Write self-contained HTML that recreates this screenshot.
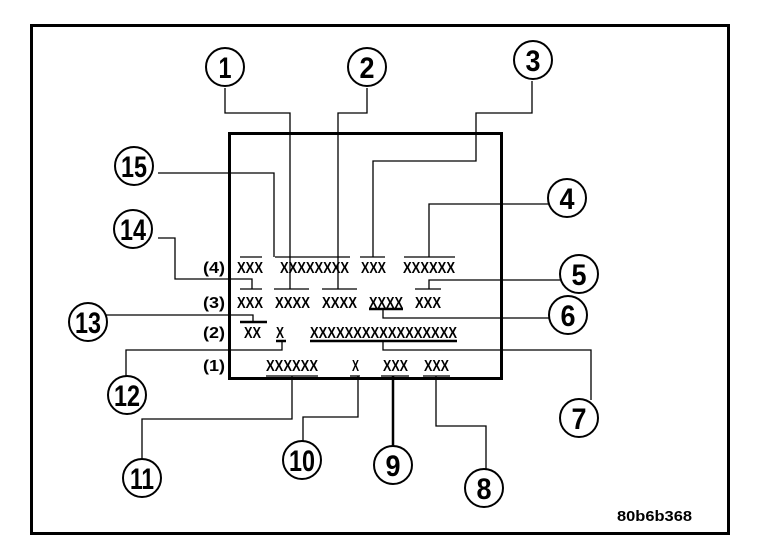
<!DOCTYPE html>
<html><head><meta charset="utf-8"><style>
html,body{margin:0;padding:0;background:#fff;}
svg{display:block;}
text{font-family:"Liberation Sans Narrow","Liberation Sans",sans-serif;font-weight:bold;fill:#000;}
</style></head><body>
<svg width="768" height="560" viewBox="0 0 768 560" xmlns="http://www.w3.org/2000/svg">
<rect x="31.5" y="25.5" width="697" height="508" fill="none" stroke="#000" stroke-width="3"/>
<rect x="229.5" y="133.5" width="272" height="245" fill="none" stroke="#000" stroke-width="3"/>
<g fill="none" stroke="#000" stroke-width="1.3">
<polyline points="225,88 225,113 290,113 290,289"/>
<polyline points="367,88 367,113 338,113 338,289"/>
<polyline points="532,81 532,113 476,113 476,161 373,161 373,257"/>
<polyline points="549,204 429,204 429,257"/>
<polyline points="560,280 429,280 429,289"/>
<polyline points="550,318 383,318 383,309"/>
<polyline points="383,341 383,350 591,350 591,400"/>
<polyline points="158,173 274,173 274,257"/>
<polyline points="158,238 175,238 175,279 252,279 252,289"/>
<polyline points="106,315 253,315 253,322"/>
<polyline points="126,377 126,350 282,350 282,341"/>
<polyline points="142,459 142,419 292,419 292,376"/>
<polyline points="303,441 303,417 358,417 358,376"/>
<polyline points="436,376 436,426 486,426 486,469"/>
<line x1="240" y1="257" x2="262" y2="257"/>
<line x1="275" y1="257" x2="350" y2="257"/>
<line x1="360" y1="257" x2="385" y2="257"/>
<line x1="404" y1="257" x2="455" y2="257"/>
<line x1="240" y1="289" x2="262" y2="289"/>
<line x1="274" y1="289" x2="309" y2="289"/>
<line x1="322" y1="289" x2="357" y2="289"/>
<line x1="415" y1="289" x2="441" y2="289"/>
<line x1="266" y1="376" x2="318" y2="376"/>
<line x1="350" y1="376" x2="360" y2="376"/>
<line x1="381" y1="376" x2="409" y2="376"/>
<line x1="423" y1="376" x2="450" y2="376"/>
</g>
<g stroke="#000" stroke-width="2.5">
<line x1="393" y1="376" x2="393" y2="446"/>
<line x1="369" y1="309" x2="403" y2="309"/>
<line x1="240" y1="322" x2="267" y2="322"/>
<line x1="310" y1="341" x2="457" y2="341"/>
<line x1="276" y1="341" x2="286" y2="341"/>
</g>
<g fill="#fff" stroke="#000" stroke-width="2">
<circle cx="225" cy="67" r="19"/><circle cx="367" cy="67" r="19"/><circle cx="533" cy="60" r="19"/>
<circle cx="567" cy="198" r="19"/><circle cx="579" cy="274" r="19"/><circle cx="568" cy="315" r="19"/>
<circle cx="579" cy="418" r="19"/><circle cx="484" cy="488" r="19"/><circle cx="393" cy="465" r="19"/>
<circle cx="302" cy="460" r="19"/><circle cx="142" cy="478" r="19"/><circle cx="127" cy="395" r="19"/>
<circle cx="88" cy="322" r="19"/><circle cx="133" cy="229" r="19"/><circle cx="134" cy="166" r="19"/>
</g>
<g font-size="30" text-anchor="middle">
<text x="225" y="78" textLength="13" lengthAdjust="spacingAndGlyphs">1</text>
<text x="367" y="78" textLength="15" lengthAdjust="spacingAndGlyphs">2</text>
<text x="533" y="71" textLength="15" lengthAdjust="spacingAndGlyphs">3</text>
<text x="567" y="209" textLength="15" lengthAdjust="spacingAndGlyphs">4</text>
<text x="579" y="285" textLength="15" lengthAdjust="spacingAndGlyphs">5</text>
<text x="568" y="326" textLength="15" lengthAdjust="spacingAndGlyphs">6</text>
<text x="579" y="429" textLength="15" lengthAdjust="spacingAndGlyphs">7</text>
<text x="484" y="499" textLength="15" lengthAdjust="spacingAndGlyphs">8</text>
<text x="393" y="476" textLength="15" lengthAdjust="spacingAndGlyphs">9</text>
<text x="302" y="471" textLength="26" lengthAdjust="spacingAndGlyphs">10</text>
<text x="142" y="489" textLength="24" lengthAdjust="spacingAndGlyphs">11</text>
<text x="127" y="406" textLength="26" lengthAdjust="spacingAndGlyphs">12</text>
<text x="88" y="333" textLength="26" lengthAdjust="spacingAndGlyphs">13</text>
<text x="133" y="240" textLength="26" lengthAdjust="spacingAndGlyphs">14</text>
<text x="134" y="177" textLength="26" lengthAdjust="spacingAndGlyphs">15</text>
</g>
<g font-size="16">
<text x="203" y="273" textLength="22" lengthAdjust="spacingAndGlyphs">(4)</text>
<text x="237" y="273" textLength="26" lengthAdjust="spacingAndGlyphs">XXX</text>
<text x="280" y="273" textLength="69" lengthAdjust="spacingAndGlyphs">XXXXXXXX</text>
<text x="361" y="273" textLength="25" lengthAdjust="spacingAndGlyphs">XXX</text>
<text x="403" y="273" textLength="52" lengthAdjust="spacingAndGlyphs">XXXXXX</text>
<text x="203" y="308" textLength="22" lengthAdjust="spacingAndGlyphs">(3)</text>
<text x="237" y="308" textLength="26" lengthAdjust="spacingAndGlyphs">XXX</text>
<text x="275" y="308" textLength="35" lengthAdjust="spacingAndGlyphs">XXXX</text>
<text x="322" y="308" textLength="35" lengthAdjust="spacingAndGlyphs">XXXX</text>
<text x="369" y="308" textLength="34" lengthAdjust="spacingAndGlyphs">XXXX</text>
<text x="415" y="308" textLength="26" lengthAdjust="spacingAndGlyphs">XXX</text>
<text x="203" y="338" textLength="22" lengthAdjust="spacingAndGlyphs">(2)</text>
<text x="244" y="338" textLength="17" lengthAdjust="spacingAndGlyphs">XX</text>
<text x="276" y="338" textLength="8" lengthAdjust="spacingAndGlyphs">X</text>
<text x="310" y="338" textLength="147" lengthAdjust="spacingAndGlyphs">XXXXXXXXXXXXXXXXX</text>
<text x="203" y="371" textLength="22" lengthAdjust="spacingAndGlyphs">(1)</text>
<text x="266" y="371" textLength="52" lengthAdjust="spacingAndGlyphs">XXXXXX</text>
<text x="352" y="371" textLength="7" lengthAdjust="spacingAndGlyphs">X</text>
<text x="383" y="371" textLength="25" lengthAdjust="spacingAndGlyphs">XXX</text>
<text x="424" y="371" textLength="25" lengthAdjust="spacingAndGlyphs">XXX</text>
</g>
<text x="617" y="521" font-size="15" textLength="75" lengthAdjust="spacingAndGlyphs">80b6b368</text>
</svg>
</body></html>
